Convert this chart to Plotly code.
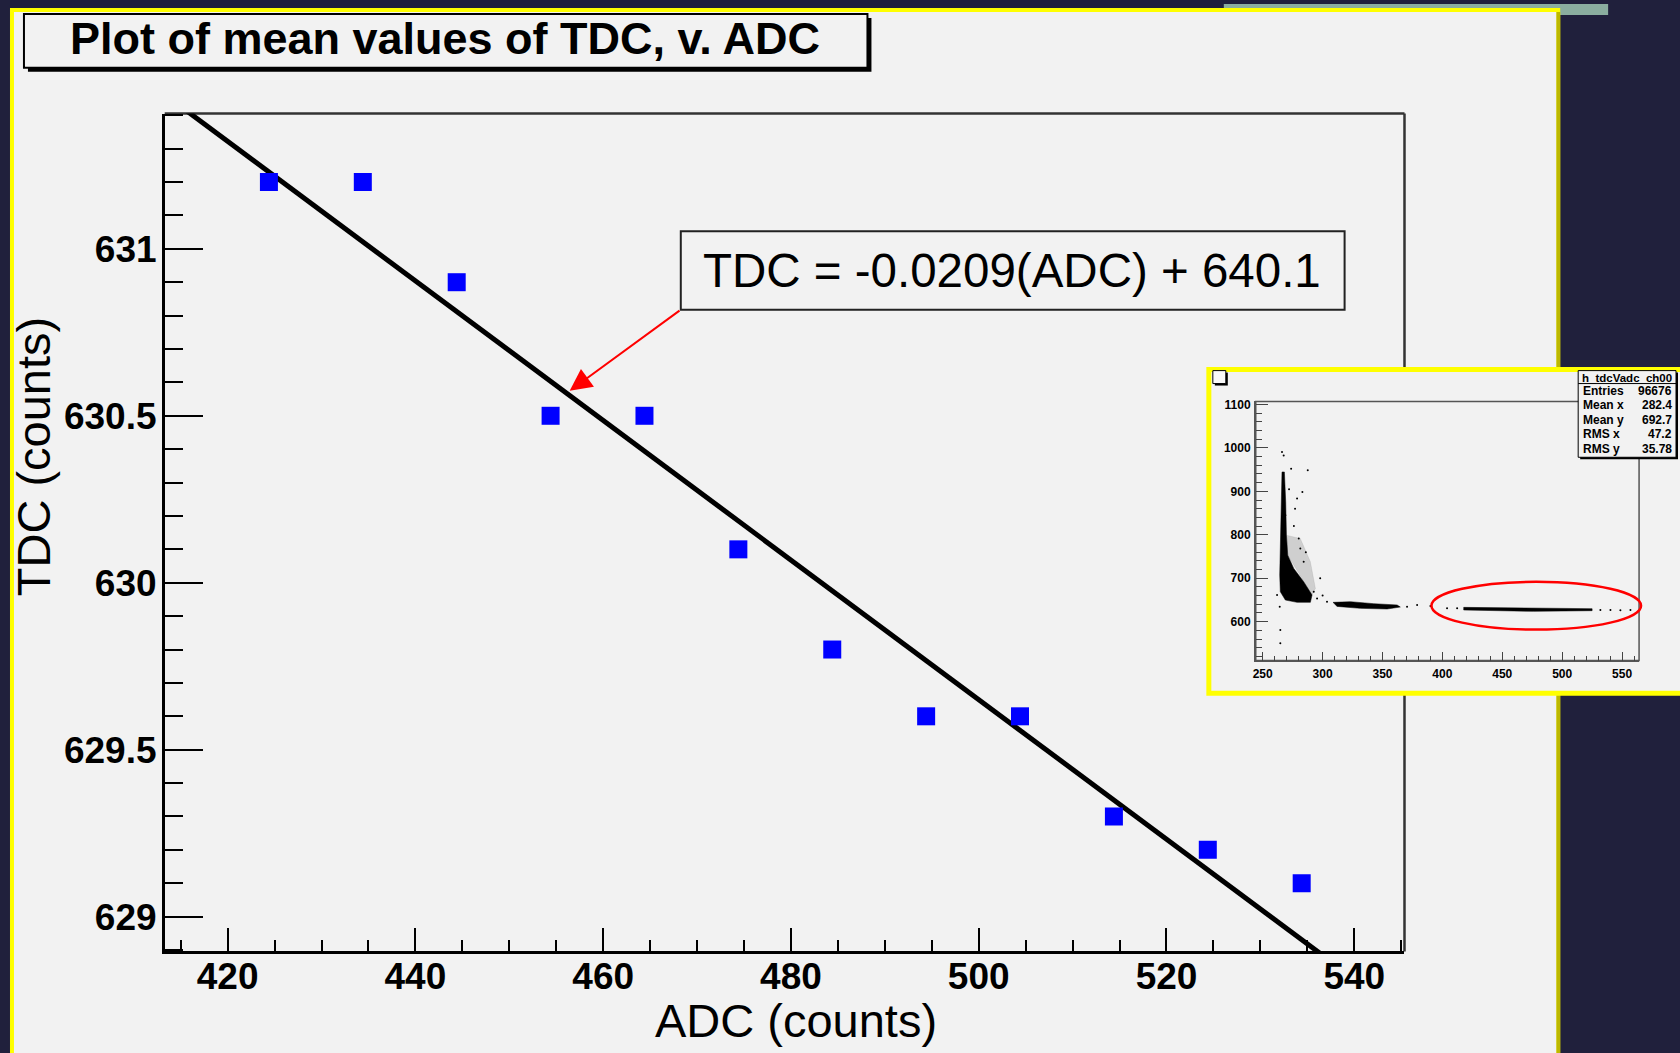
import plotly.graph_objects as go

W, H = 1680, 1053

# ---------------- data (main plot) ----------------
adc_mean = [424.4, 434.4, 444.4, 454.4, 464.4, 474.4, 484.4, 494.4, 504.4, 514.4, 524.4, 534.4]
tdc_mean = [631.2, 631.2, 630.9, 630.5, 630.5, 630.1, 629.8, 629.6, 629.6, 629.3, 629.2, 629.1]
fit_slope = -0.0209
fit_intercept = 640.1
fit_x = [413.3, 545.35]

x_ticks = [420, 440, 460, 480, 500, 520, 540]
y_ticks = [629, 629.5, 630, 630.5, 631]
y_tick_text = ["629", "629.5", "630", "630.5", "631"]

# ---------------- data (inset: h_tdcVadc_ch00) ----------------
spike_x = [266.1, 268.1, 269.2, 269.8, 270.9, 275.9, 284.2, 291.2, 289.8, 278.7, 268.9, 264.7, 264.2, 264.7, 265.3, 266.1]
spike_y = [944.6, 944.6, 875.7, 799.1, 753.1, 722.5, 691.9, 661.3, 644.4, 644.4, 649.8, 668.9, 707.2, 799.1, 875.7, 944.6]
halo_x = [269.8, 281.4, 289.8, 294.0, 291.2, 270.9, 269.8]
halo_y = [799.1, 791.4, 737.8, 676.6, 661.3, 753.1, 799.1]
band1_x = [308.7, 323.2, 342.7, 362.2, 364.9, 353.8, 331.5, 312.1, 308.7]
band1_y = [644.4, 646.0, 641.4, 638.4, 633.7, 629.1, 630.6, 635.1, 644.4]
band2_x = [417.8, 476.3, 525.0, 525.0, 476.3, 417.8, 417.8]
band2_y = [632.9, 632.1, 629.9, 625.3, 623.7, 626.8, 632.9]
stray_x = [262.0, 264.7, 264.7, 264.2, 287.6, 283.1, 278.7, 273.7, 280.1, 281.4, 284.2, 292.6, 295.4,
           303.7, 370.5, 378.9, 403.9, 412.3, 531.9, 540.3, 548.6, 557.0, 268.9, 267.5, 266.1,
           276.0, 286.0, 298.0, 272.0, 277.0, 300.0, 390.0]
stray_y = [661.3, 580.9, 550.3, 634.5, 948.4, 898.6, 883.3, 952.2, 791.4, 768.5, 737.8, 668.9, 653.6,
           645.9, 634.5, 638.3, 630.6, 630.6, 626.8, 626.8, 626.0, 626.8, 845.0, 982.8, 990.5,
           820.0, 760.0, 700.0, 905.0, 860.0, 660.0, 636.0]
inset_x_ticks = [250, 300, 350, 400, 450, 500, 550]
inset_y_ticks = [600, 700, 800, 900, 1000, 1100]
stat_labels = ["Entries", "Mean x", "Mean y", "RMS x", "RMS y"]
stat_values = ["96676", "282.4", "692.7", "47.2", "35.78"]

# ---------------- colours ----------------
NAVY = "#20203c"
PANEL = "#f2f2f2"
YELLOW = "#ffff00"
FONT = "Liberation Sans, Arial, Helvetica, sans-serif"


def px(x):
    return x / W


def py(y):
    return 1 - y / H


def rect(x0, y0, x1, y1, fill=None, line=None, lw=0, layer="below"):
    return dict(type="rect", xref="paper", yref="paper",
                x0=px(x0), x1=px(x1), y0=py(y1), y1=py(y0),
                fillcolor=fill if fill else "rgba(0,0,0,0)",
                line=dict(color=line if line else "rgba(0,0,0,0)", width=lw),
                layer=layer)


def seg(x0, y0, x1, y1, color, lw, layer="below"):
    return dict(type="line", xref="paper", yref="paper",
                x0=px(x0), x1=px(x1), y0=py(y0), y1=py(y1),
                line=dict(color=color, width=lw), layer=layer)


shapes = [
    rect(1223, 0, 1608, 11, fill="#8aad9f"),
    rect(7, 4, 1560, 1060, fill=YELLOW),
    rect(1556, 8, 1560, 1060, fill="#bdb800"),
    rect(11, 8, 1556, 1060, fill=PANEL),
    rect(25, 14, 870, 68, fill="#000000"),
    rect(21, 10, 866, 64, fill=PANEL, line="#000000", lw=2),
    seg(162, 110, 1404, 110, "#333333", 2.5),
    seg(1404, 110, 1404, 951, "#333333", 2.5),
    rect(679, 228, 1344, 307, fill=PANEL, line="#222222", lw=2),
    rect(1208, 367, 1700, 692, fill=PANEL, line=YELLOW, lw=5),
    rect(1255, 399, 1639, 659, line="#555555", lw=1.5),
    rect(1214, 370, 1227, 383, fill="#000000"),
    rect(1212, 368, 1225, 381, fill="#f8f8f8", line="#000000", lw=1),
    rect(1580, 370, 1678, 457, fill="#000000"),
    rect(1578, 368, 1676, 455, fill=PANEL, line="#000000", lw=1),
    seg(1578, 381, 1676, 381, "#000000", 1),
    dict(type="circle", xref="paper", yref="paper",
         x0=px(1431), x1=px(1641), y0=py(628), y1=py(580),
         line=dict(color="#ff0000", width=2.5), layer="above"),
]

fig = go.Figure()

fig.add_trace(go.Scatter(
    x=fit_x, y=[fit_slope * v + fit_intercept for v in fit_x],
    mode="lines", line=dict(color="#000000", width=5),
    xaxis="x", yaxis="y", showlegend=False, hoverinfo="skip"))
fig.add_trace(go.Scatter(
    x=adc_mean, y=tdc_mean, mode="markers",
    marker=dict(symbol="square", size=18, color="#0000ff", line=dict(width=0)),
    xaxis="x", yaxis="y", showlegend=False))

for xs, ys, col in [(halo_x, halo_y, "rgba(0,0,0,0.14)"),
                    (spike_x, spike_y, "#000000"),
                    (band1_x, band1_y, "#000000"),
                    (band2_x, band2_y, "#000000")]:
    fig.add_trace(go.Scatter(x=xs, y=ys, mode="lines", fill="toself", fillcolor=col,
                             line=dict(width=0.5, color=col), xaxis="x2", yaxis="y2",
                             showlegend=False, hoverinfo="skip"))
fig.add_trace(go.Scatter(x=stray_x, y=stray_y, mode="markers",
                         marker=dict(size=2, color="#000000"),
                         xaxis="x2", yaxis="y2", showlegend=False, hoverinfo="skip"))

tickfont_main = dict(family=FONT, size=37, color="#000000", weight="bold")
tickfont_inset = dict(family=FONT, size=12, color="#000000", weight="bold")

fig.update_layout(
    width=W, height=H, autosize=False,
    margin=dict(l=0, r=0, t=0, b=0, pad=0),
    paper_bgcolor=NAVY, plot_bgcolor="rgba(0,0,0,0)",
    shapes=shapes,
    xaxis=dict(domain=[px(162), px(1404)], range=[413.3, 545.35], anchor="y",
               showgrid=False, zeroline=False, showline=True, linecolor="#000000", linewidth=2.5,
               tickmode="array", tickvals=x_ticks, ticks="inside", ticklen=24, tickwidth=2,
               tickcolor="#000000", tickfont=tickfont_main, ticklabelstandoff=-10,
               minor=dict(dtick=5, tick0=420, ticks="inside", ticklen=12, tickwidth=2,
                          tickcolor="#000000", showgrid=False)),
    yaxis=dict(domain=[py(951), py(110)], range=[628.896, 631.405], anchor="x",
               showgrid=False, zeroline=False, showline=True, linecolor="#000000", linewidth=2.5,
               tickmode="array", tickvals=y_ticks, ticktext=y_tick_text,
               ticks="inside", ticklen=39, tickwidth=2,
               tickcolor="#000000", tickfont=tickfont_main, ticklabelstandoff=-2,
               minor=dict(dtick=0.1, tick0=629, ticks="inside", ticklen=19, tickwidth=2,
                          tickcolor="#000000", showgrid=False)),
    xaxis2=dict(domain=[px(1255), px(1639)], range=[244.2, 564.2], anchor="y2",
                showgrid=False, zeroline=False, showline=True, linecolor="#555555", linewidth=1.5,
                tickmode="array", tickvals=inset_x_ticks, ticks="inside", ticklen=9, tickwidth=1.2,
                tickcolor="#444444", tickfont=tickfont_inset, ticklabelstandoff=1,
                minor=dict(dtick=10, tick0=250, ticks="inside", ticklen=5, tickwidth=1,
                           tickcolor="#444444", showgrid=False)),
    yaxis2=dict(domain=[py(659), py(399)], range=[510.6, 1106.9], anchor="x2",
                showgrid=False, zeroline=False, showline=True, linecolor="#555555", linewidth=1.5,
                tickmode="array", tickvals=inset_y_ticks, ticks="inside", ticklen=12, tickwidth=1.2,
                tickcolor="#444444", tickfont=tickfont_inset, ticklabelstandoff=1,
                minor=dict(dtick=20, tick0=600, ticks="inside", ticklen=6, tickwidth=1,
                           tickcolor="#444444", showgrid=False)),
)

ann = []
ann.append(dict(text="Plot of mean values of TDC, v. ADC", xref="paper", yref="paper",
                x=px(443), y=py(35), xanchor="center", yanchor="middle", showarrow=False,
                font=dict(family=FONT, size=45, color="#000000", weight="bold")))
ann.append(dict(text="ADC (counts)", xref="paper", yref="paper",
                x=px(794), y=py(1020), xanchor="center", yanchor="middle", showarrow=False,
                font=dict(family=FONT, size=47, color="#000000")))
ann.append(dict(text="TDC (counts)", xref="paper", yref="paper", textangle=-90,
                x=px(30), y=py(454), xanchor="center", yanchor="middle", showarrow=False,
                font=dict(family=FONT, size=47, color="#000000")))
ann.append(dict(text="TDC = -0.0209(ADC) + 640.1", xref="paper", yref="paper",
                x=px(699), y=py(268), xanchor="left", yanchor="middle", showarrow=False,
                font=dict(family=FONT, size=47.5, color="#000000")))
ann.append(dict(text="", xref="paper", yref="paper", x=px(567.7), y=py(388.3),
                ax=679 - 567.7, ay=307 - 388.3, axref="pixel", ayref="pixel",
                showarrow=True, arrowhead=2, arrowsize=2.2, arrowwidth=2, arrowcolor="#ff0000",
                standoff=0, startstandoff=0))
ann.append(dict(text="h_tdcVadc_ch00", xref="paper", yref="paper",
                x=px(1627), y=py(375), xanchor="center", yanchor="middle", showarrow=False,
                font=dict(family=FONT, size=11.5, color="#000000", weight="bold")))
for i, (lab, val) in enumerate(zip(stat_labels, stat_values)):
    yy = 388 + i * 14.7
    ann.append(dict(text=lab, xref="paper", yref="paper", x=px(1581), y=py(yy),
                    xanchor="left", yanchor="middle", showarrow=False,
                    font=dict(family=FONT, size=12, color="#000000", weight="bold")))
    ann.append(dict(text=val, xref="paper", yref="paper", x=px(1674), y=py(yy),
                    xanchor="right", yanchor="middle", showarrow=False,
                    font=dict(family=FONT, size=12, color="#000000", weight="bold")))
fig.update_layout(annotations=ann)

fig.write_html("out.html")
